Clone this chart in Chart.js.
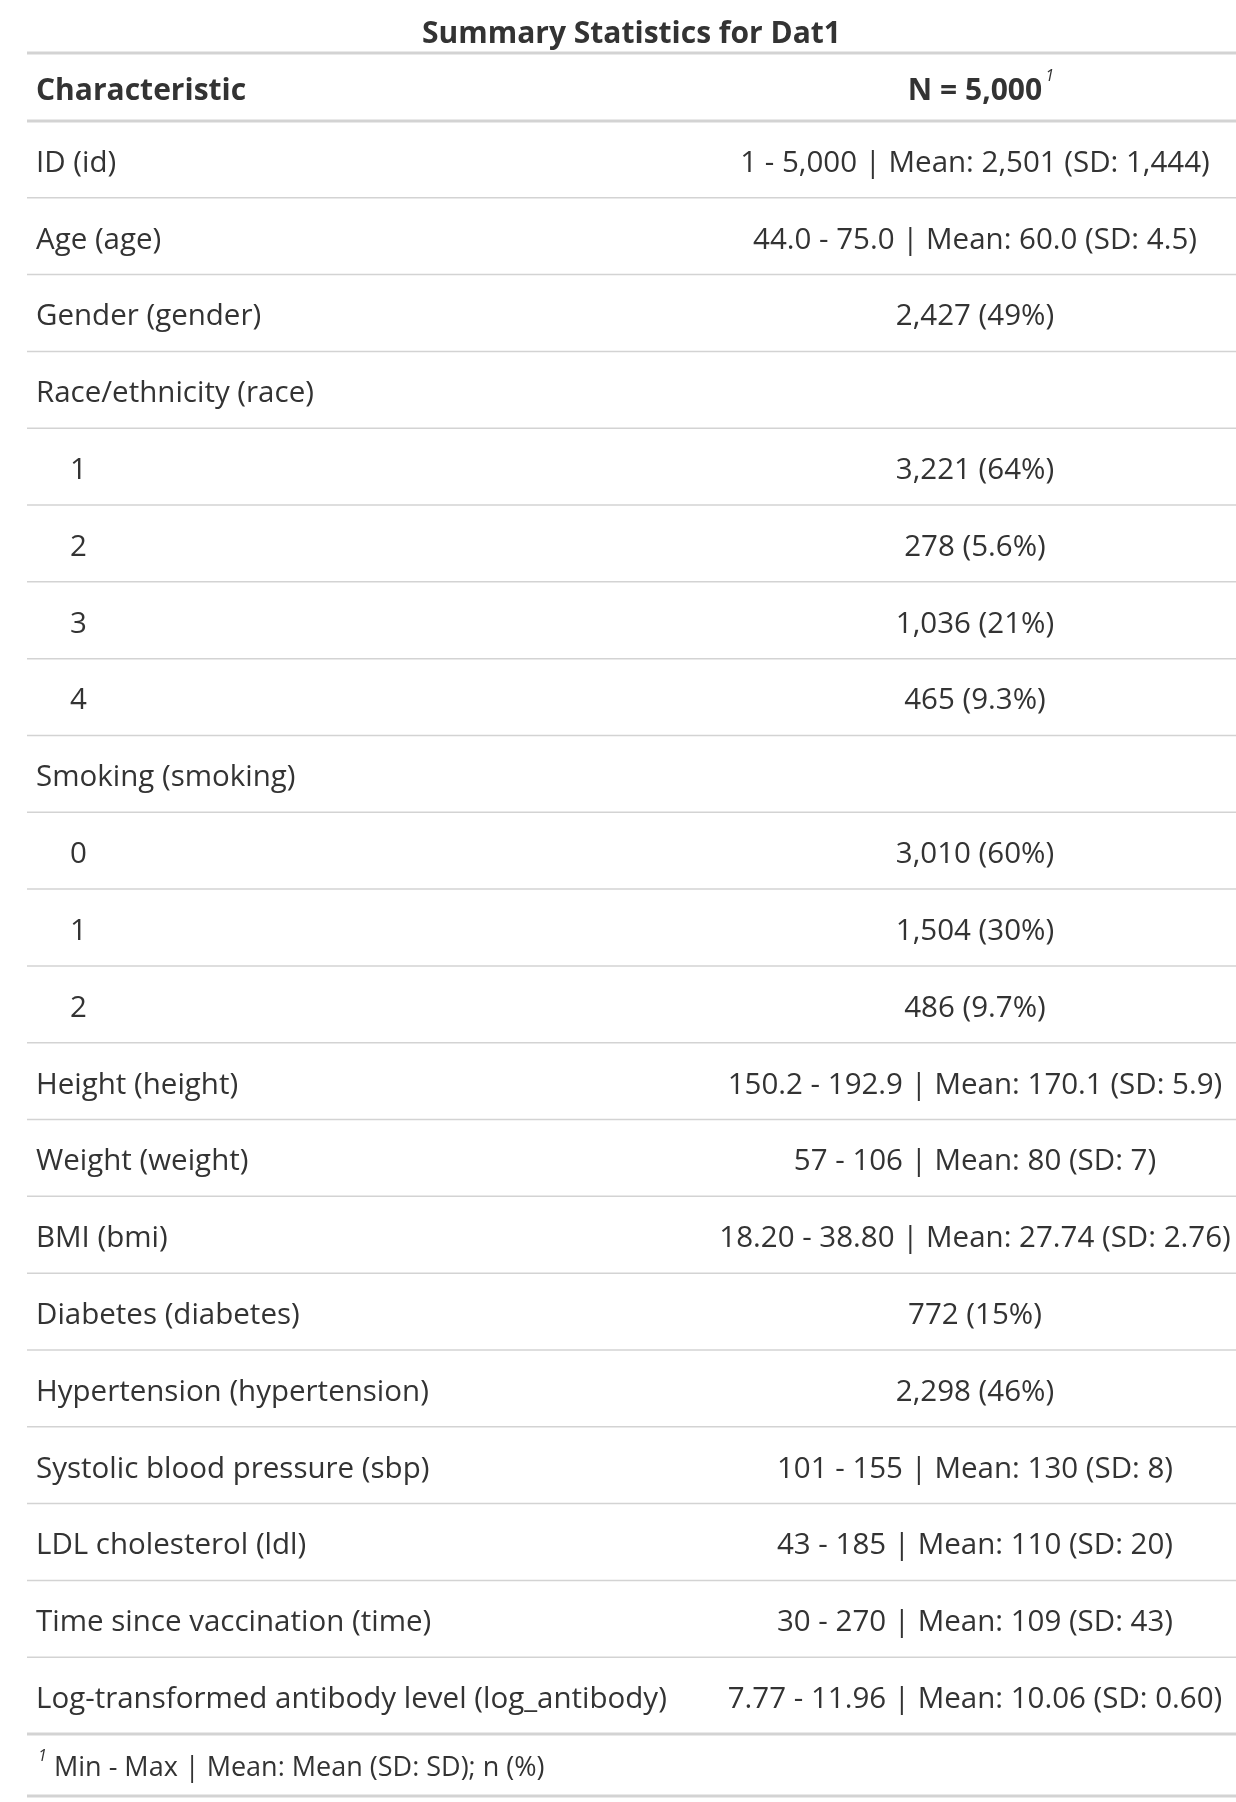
<!DOCTYPE html>
<html><head><meta charset="utf-8">
<script src="https://cdn.jsdelivr.net/npm/chart.js@4"></script>
<style>html,body{margin:0;background:#fff}#wrap{width:1236px;height:1802px}</style>
</head><body><div id="wrap"><canvas id="graph"></canvas></div>
<script>
"use strict";
const title = "Summary Statistics for Dat1";
const characteristics = [
  "ID (id)", "Age (age)", "Gender (gender)", "Race/ethnicity (race)", "1", "2", "3", "4",
  "Smoking (smoking)", "0", "1", "2", "Height (height)", "Weight (weight)", "BMI (bmi)",
  "Diabetes (diabetes)", "Hypertension (hypertension)", "Systolic blood pressure (sbp)",
  "LDL cholesterol (ldl)", "Time since vaccination (time)", "Log-transformed antibody level (log_antibody)"
];
const indented = [false, false, false, false, true, true, true, true, false, true, true, true,
  false, false, false, false, false, false, false, false, false];
const values = [
  "1 - 5,000 | Mean: 2,501 (SD: 1,444)", "44.0 - 75.0 | Mean: 60.0 (SD: 4.5)", "2,427 (49%)", "",
  "3,221 (64%)", "278 (5.6%)", "1,036 (21%)", "465 (9.3%)", "",
  "3,010 (60%)", "1,504 (30%)", "486 (9.7%)",
  "150.2 - 192.9 | Mean: 170.1 (SD: 5.9)", "57 - 106 | Mean: 80 (SD: 7)",
  "18.20 - 38.80 | Mean: 27.74 (SD: 2.76)", "772 (15%)", "2,298 (46%)",
  "101 - 155 | Mean: 130 (SD: 8)", "43 - 185 | Mean: 110 (SD: 20)",
  "30 - 270 | Mean: 109 (SD: 43)", "7.77 - 11.96 | Mean: 10.06 (SD: 0.60)"
];
const footnote = "Min - Max | Mean: Mean (SD: SD); n (%)";

const FONT = "'Open Sans', 'Noto Sans', sans-serif";
const TEXT = "#333333";
const RULE = "#d3d3d3";

const tablePlugin = {
  id: "table",
  afterDraw(chart) {
    const ctx = chart.ctx;
    const y = chart.scales.y;
    const a = chart.chartArea;
    const valX = 975;
    ctx.save();
    ctx.fillStyle = TEXT;
    ctx.textBaseline = "middle";
    ctx.font = "bold 30px " + FONT;
    ctx.textAlign = "center";
    ctx.fillText(title, (a.left + a.right) / 2, 34);
    const headY = 91;
    ctx.textAlign = "left";
    ctx.fillText("Characteristic", 36, headY);
    ctx.textAlign = "center";
    ctx.fillText("N = 5,000", valX, headY);
    const w = ctx.measureText("N = 5,000").width;
    ctx.font = "italic 16px " + FONT;
    ctx.textAlign = "left";
    ctx.fillText("1", valX + w / 2 + 3, headY - 15);
    ctx.strokeStyle = RULE;
    ctx.lineWidth = 3;
    [53, a.top, a.bottom, 1796].forEach((yy) => {
      ctx.beginPath(); ctx.moveTo(a.left, yy); ctx.lineTo(a.right, yy); ctx.stroke();
    });
    ctx.lineWidth = 1.5;
    ctx.font = "29.5px " + FONT;
    ctx.fillStyle = TEXT;
    characteristics.forEach((c, i) => {
      const cy = y.getPixelForValue(i) + 4;
      ctx.textAlign = "left";
      ctx.fillText(c, indented[i] ? 70 : 36, cy);
      ctx.textAlign = "center";
      if (values[i]) ctx.fillText(values[i], valX, cy);
      if (i < characteristics.length - 1) {
        const ly = (y.getPixelForValue(i) + y.getPixelForValue(i + 1)) / 2;
        ctx.beginPath(); ctx.moveTo(a.left, ly); ctx.lineTo(a.right, ly); ctx.stroke();
      }
    });
    ctx.font = "italic 16px " + FONT;
    ctx.textAlign = "left";
    ctx.fillText("1", 38, 1756);
    ctx.font = "27px " + FONT;
    ctx.fillText(footnote, 54, 1768);
    ctx.restore();
  },
};

document.addEventListener("DOMContentLoaded", () => {
  const ctx = document.getElementById("graph").getContext("2d");
  new Chart(ctx, {
    type: "bar",
    data: {
      labels: characteristics,
      datasets: [{ data: characteristics.map(() => null) }],
    },
    options: {
      responsive: true,
      maintainAspectRatio: false,
      animation: false,
      indexAxis: "y",
      layout: { padding: { top: 121, bottom: 68, left: 27, right: 0 } },
      plugins: { legend: { display: false }, tooltip: { enabled: false } },
      scales: {
        y: { display: false, offset: true },
        x: { display: false, min: 0, max: 1 },
      },
    },
    plugins: [tablePlugin],
  });
});
</script></body></html>
